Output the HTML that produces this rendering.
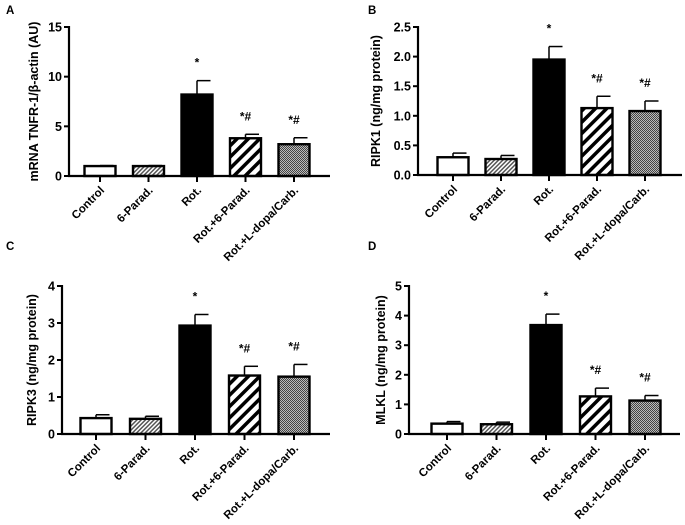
<!DOCTYPE html>
<html><head><meta charset="utf-8"><style>
html,body{margin:0;padding:0;background:#fff;}
svg{display:block;font-family:"Liberation Sans",Arial,sans-serif;}
</style></head><body>
<svg id="fig" width="685" height="525" viewBox="0 0 685 525" xmlns="http://www.w3.org/2000/svg">
<defs>
<pattern id="pStripe" patternUnits="userSpaceOnUse" width="8" height="8" patternTransform="rotate(45)">
<rect width="8" height="8" fill="#fff"/><rect width="3.5" height="8" fill="#000"/></pattern>
<pattern id="pFine" patternUnits="userSpaceOnUse" width="3" height="3" patternTransform="rotate(45)">
<rect width="3" height="3" fill="#fff"/><rect width="1.5" height="3" fill="#555"/></pattern>
<pattern id="pCheck" patternUnits="userSpaceOnUse" width="2" height="2">
<rect width="2" height="2" fill="#bbb"/><rect width="1" height="1" fill="#444"/><rect x="1" y="1" width="1" height="1" fill="#444"/></pattern>
</defs>
</svg>
<script>
const categories = ["Control","6-Parad.","Rot.","Rot.+6-Parad.","Rot.+L-dopa/Carb."];
const valuesA = [1.0, 1.0, 8.2, 3.8, 3.2];
const errorsA = [1.05, 1.05, 9.6, 4.2, 3.85];
const valuesB = [0.30, 0.27, 1.95, 1.13, 1.08];
const errorsB = [0.37, 0.33, 2.17, 1.33, 1.25];
const valuesC = [0.43, 0.41, 2.93, 1.58, 1.55];
const errorsC = [0.52, 0.48, 3.23, 1.83, 1.88];
const valuesD = [0.35, 0.33, 3.68, 1.27, 1.13];
const errorsD = [0.42, 0.40, 4.05, 1.55, 1.30];
const ticksA = ["0","5","10","15"];
const ticksB = ["0.0","0.5","1.0","1.5","2.0","2.5"];
const ticksC = ["0","1","2","3","4"];
const ticksD = ["0","1","2","3","4","5"];
const signif = ["", "", "*", "*#", "*#"];

const NS = "http://www.w3.org/2000/svg";
const svg = document.getElementById("fig");
const fills = ["#fff","url(#pFine)","#000","url(#pStripe)","url(#pCheck)"];
function mk(tag, attrs, parent){const e=document.createElementNS(NS,tag);for(const k in attrs)e.setAttribute(k,attrs[k]);(parent||svg).appendChild(e);return e;}

function panel(p){
  const g = mk("g",{});
  
  
  const maxV = parseFloat(p.ticks[p.ticks.length-1]);
  const yS = v => p.y0 - (v/maxV)*(p.y0-p.yTop);
  const xS = i => p.ax + p.off + i*p.step;
  const lt = mk("text",{x:p.lx,y:p.ly,"font-size":11.5,"font-weight":"bold"},g); lt.textContent=p.letter;
  
  
  p.vals.forEach((v,i)=>{
    const cx=xS(i), w=31;
    mk("line",{x1:cx,x2:cx,y1:yS(v),y2:yS(p.errs[i]),stroke:"#000","stroke-width":1.5},g);
    mk("line",{x1:cx,x2:cx+w/2-2,y1:yS(p.errs[i]),y2:yS(p.errs[i]),stroke:"#000","stroke-width":1.5},g);
    const r = mk("rect",{x:cx-w/2,y:yS(v),width:w,height:p.y0-yS(v),fill:fills[i],stroke:"#000","stroke-width":2.4},g);
    
    
    if(signif[i]){const s=mk("text",{x:cx,y:yS(p.errs[i])-14,"font-size":12,"font-weight":"bold","text-anchor":"middle"},g);s.textContent=signif[i];
      
      }
    mk("line",{x1:cx,x2:cx,y1:p.y0,y2:p.y0+6,stroke:"#000","stroke-width":2},g);
    const t = mk("text",{x:cx+5,y:p.y0+15,"font-size":11.5,"font-weight":"bold","text-anchor":"end",transform:`rotate(-45 ${cx+5} ${p.y0+15})`},g);
    t.textContent=categories[i];
    
    
  });
  mk("line",{x1:p.ax,x2:p.ax,y1:p.yTop-1,y2:p.y0+1,stroke:"#000","stroke-width":2.2},g);
  mk("line",{x1:p.ax-1,x2:p.xEnd,y1:p.y0,y2:p.y0,stroke:"#000","stroke-width":2.2},g);
  p.ticks.forEach(tk=>{
    const y=yS(parseFloat(tk));
    mk("line",{x1:p.ax-5,x2:p.ax,y1:y,y2:y,stroke:"#000","stroke-width":2},g);
    const t=mk("text",{x:p.ax-7,y:y+4.5,"font-size":12.5,"font-weight":"bold","text-anchor":"end"},g);t.textContent=tk;
    
    
  });
  const yt = mk("text",{x:p.ytx,y:(p.y0+p.yTop)/2,"font-size":12.5,"font-weight":"bold","text-anchor":"middle",transform:`rotate(-90 ${p.ytx} ${(p.y0+p.yTop)/2})`},g);
  yt.textContent=p.title;
  
  
}
panel({letter:"A",lx:6,ly:14,ax:69,xEnd:330,yTop:27,y0:176,off:31,step:48.5,vals:valuesA,errs:errorsA,ticks:ticksA,title:"mRNA TNFR-1/β-actin (AU)",ytx:38});
panel({letter:"B",lx:368,ly:14,ax:418,xEnd:682,yTop:27,y0:175,off:35,step:48,vals:valuesB,errs:errorsB,ticks:ticksB,title:"RIPK1 (ng/mg protein)",ytx:380});
panel({letter:"C",lx:6,ly:250,ax:62,xEnd:330,yTop:286,y0:434,off:34,step:49.5,vals:valuesC,errs:errorsC,ticks:ticksC,title:"RIPK3 (ng/mg protein)",ytx:36});
panel({letter:"D",lx:368,ly:250,ax:409,xEnd:680,yTop:286,y0:434,off:38,step:49.5,vals:valuesD,errs:errorsD,ticks:ticksD,title:"MLKL (ng/mg protein)",ytx:385});
</script>
</body></html>
